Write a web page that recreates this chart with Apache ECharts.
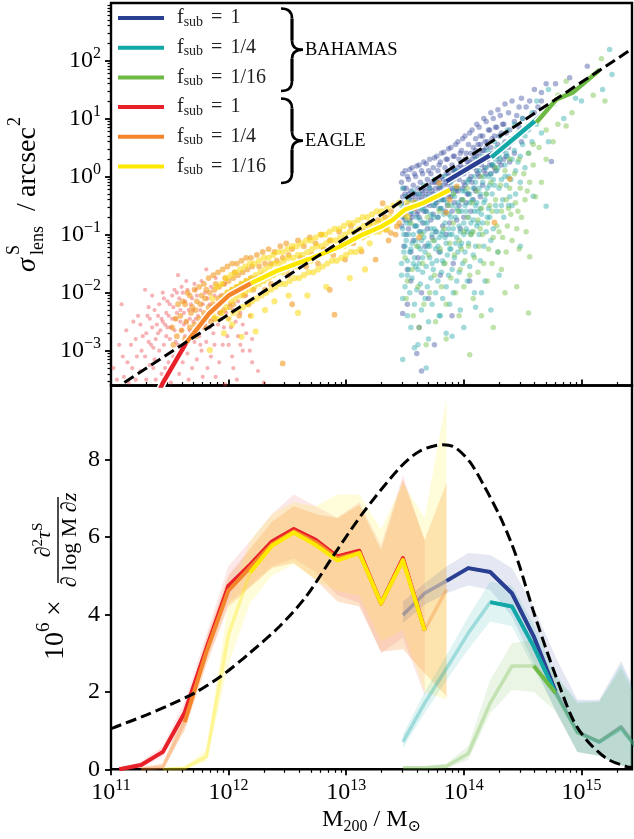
<!DOCTYPE html>
<html>
<head>
<meta charset="utf-8">
<script src="https://cdn.jsdelivr.net/npm/echarts@6.0.0/dist/echarts.min.js"></script>
<style>html,body{margin:0;padding:0;background:#fff;}#chart{width:634px;height:839px;}</style>
</head>
<body>
<div id="chart"></div>
<script>
const _ = null;
// ---------------- tick labels ----------------
const xTickExponents = [11, 12, 13, 14, 15];
const sigmaTickExponents = [-3, -2, -1, 0, 1, 2];
const tauTicks = [0, 2, 4, 6, 8];
const legendLabels = ['1', '1/4', '1/16', '1', '1/4', '1/16'];
const groupLabels = ['BAHAMAS', 'EAGLE'];

// ---------------- top panel: halo clouds, columns of [log10 M200, [log10 sigma ...]] ----------------
const bahamasF1Cloud = [[13.47,[-0.1,-0.85,-0.45]],[13.48,[-0.35,0.05,-0.7]],[13.49,[-0.6,-1.2,-0.2]],[13.50,[0.1,-0.75,-0.3]],[13.51,[-0.2,-1.0,-0.55]],[13.52,[-0.5,-1.6,0.0]],[13.53,[-0.05,-0.9,-0.3]],[13.54,[-0.4,0.12,-0.75]],[13.55,[-0.65,-0.25,-1.3]],[13.56,[0.15,-0.7,-0.35]],[13.57,[-0.15,-1.1,-0.5]],[13.58,[-0.45,-0.3,-0.55,0.05]],[13.59,[0.0,-0.85,-0.4]],[13.60,[-0.3,0.18,-0.65]],[13.61,[-0.6,-1.4,-0.2]],[13.62,[0.2,-0.7,-0.35]],[13.63,[-0.1,-0.95,-0.5]],[13.64,[-0.4,-0.25,-2.0,0.1]],[13.65,[0.05,-0.8,-0.3]],[13.66,[-0.2,0.25,-0.6]],[13.67,[-0.5,-1.2,-0.35]],[13.68,[0.22,-0.6,-0.25]],[13.69,[-0.05,-0.9,-0.45]],[13.70,[-0.3,-0.15,-0.45,0.1]],[13.71,[0.3,-0.5,-0.2]],[13.72,[0.05,-0.75,-0.4]],[13.73,[-0.25,-1.05,-0.1]],[13.74,[0.15,-0.65,-0.3]],[13.75,[-0.1,0.32,-0.5]],[13.76,[-0.4,-0.95,-0.2]],[13.77,[0.35,-0.45,-0.1]],[13.78,[0.1,-0.7,-0.3]],[13.79,[-0.2,-0.05,-1.3,0.2]],[13.80,[0.25,-0.55,-0.2]],[13.81,[0.0,0.4,-0.4]],[13.82,[-0.3,-0.85,-0.15]],[13.83,[0.42,-0.4,-0.05]],[13.84,[0.15,-0.6,-0.25]],[13.85,[-0.1,0.05,-1.0,0.3]],[13.86,[0.3,-0.5,-0.15]],[13.87,[0.05,0.48,-0.35]],[13.88,[-0.25,-0.8,-0.1]],[13.89,[0.5,-0.35,0.0]],[13.90,[0.2,-0.6,-0.2]],[13.91,[-0.05,0.1,-1.5,0.35]],[13.92,[0.35,-0.45,0.1]],[13.93,[0.1,0.55,-0.25]],[13.94,[-0.2,-0.75,0.0]],[13.95,[0.6,-0.25,0.15]],[13.96,[0.3,-0.5,-0.05]],[13.97,[0.05,0.2,-0.9,0.4]],[13.98,[0.45,-0.4,0.1]],[13.99,[0.15,0.65,-0.2]],[14.00,[-0.1,-0.7,0.05]],[14.01,[0.7,-0.15,0.3]],[14.02,[0.4,-0.45,0.15]],[14.03,[0.1,0.25,-0.3]],[14.04,[0.55,-0.3,0.2]],[14.05,[0.25,0.75,-0.05]],[14.06,[0.0,-0.6,0.4]],[14.07,[0.8,-0.1,0.3]],[14.08,[0.5,-0.4,0.15]],[14.09,[0.2,0.35,-0.2]],[14.10,[0.65,-0.25,0.45]],[14.11,[0.35,0.9,0.1]],[14.12,[0.05,0.55]],[14.13,[0.85,0.0,0.4]],[14.14,[0.55,-0.35,0.7]],[14.15,[0.3,0.2]],[14.16,[0.7,-0.15,0.45]],[14.17,[0.45,1.0,0.1]],[14.18,[0.15,0.6]],[14.19,[0.95,0.05,0.5]],[14.20,[0.6,0.3]],[14.21,[0.35,0.8]],[14.22,[0.8,0.2]],[14.23,[0.5,1.1,0.05]],[14.24,[0.2,0.65]],[14.25,[1.0,0.4]],[14.26,[0.7,0.15]],[14.27,[0.4,0.85,0.1]],[14.28,[0.85,0.35]],[14.29,[0.55,1.15]],[14.30,[0.25,0.7]],[14.31,[1.05,0.45]],[14.32,[0.75,0.2]],[14.33,[0.45,0.9]],[14.34,[0.9,0.3]],[14.35,[0.6,1.25]],[14.36,[0.35,0.75]],[14.38,[1.1,0.5]],[14.39,[0.8,0.25]],[14.41,[1.3,0.6]],[14.43,[0.95,0.4]],[14.45,[1.05,0.7]],[14.47,[0.85,1.2]],[14.49,[1.35,0.6]],[14.5,[1.0]],[14.53,[1.2,0.85]],[14.56,[0.9,1.3]],[14.6,[1.5,1.1]],[14.63,[1.2]],[14.66,[1.45,1.3]],[14.7,[1.6]],[14.745,[0.26]],[14.78,[1.6]],[14.9,[1.7]],[15.05,[1.9]]];
const bahamasF1Sparse = [[13.48,-2.36],[13.64,-3.35],[13.55,-1.8],[13.7,-2.1],[13.62,-2.6],[13.6,-3.05],[13.9,-2.4],[13.75,-2.9],[14.05,-1.8],[13.52,-2.2],[13.8,-1.7]];
const bahamasF4Cloud = [[13.47,[-0.5,-1.7,-1.5]],[13.48,[-0.9,-2.1,-0.2]],[13.49,[-1.3,-0.6,-1.0]],[13.50,[-0.7,-1.9,-1.2]],[13.51,[-1.1,-0.35,-0.8]],[13.52,[-1.45,-2.4,-1.7]],[13.53,[-0.4,-1.6,-1.0]],[13.54,[-0.8,-2.0,-1.3]],[13.55,[-1.25,-2.6,-0.6]],[13.56,[-0.6,-1.75,-1.15]],[13.57,[-1.0,-0.25,-1.5]],[13.58,[-1.4,-2.2,-0.85]],[13.59,[-0.45,-1.55,-1.1]],[13.60,[-0.85,-1.95,-0.7]],[13.61,[-1.2,-2.9,-1.6]],[13.62,[-0.3,-1.5,-0.95]],[13.63,[-0.75,-1.85,-1.25]],[13.64,[-1.1,-2.3,-0.55]],[13.65,[-0.55,-1.65,-1.4]],[13.66,[-0.95,-0.15,-1.05]],[13.67,[-1.3,-2.1,-0.8]],[13.68,[-0.4,-1.55,-0.6]],[13.69,[-0.8,-1.9,-1.2]],[13.70,[-1.15,-2.5,-0.35]],[13.71,[-0.2,-1.4,-1.2]],[13.72,[-0.65,-1.75,-0.9]],[13.73,[-1.0,-2.2,-1.5]],[13.74,[-0.5,-1.6,-0.7]],[13.75,[-0.9,-0.05,-1.1]],[13.76,[-1.25,-2.0,-0.45]],[13.77,[-0.3,-1.45,-0.95]],[13.78,[-0.7,-1.8,-1.2]],[13.79,[-1.05,-2.4,-0.55]],[13.80,[-0.15,-1.3,-0.4]],[13.81,[-0.55,-1.65,-1.0]],[13.82,[-0.95,-2.1,-1.45]],[13.83,[-0.4,-1.5,-0.65]],[13.84,[-0.8,0.0,-1.05]],[13.85,[-1.15,-1.9,-2.7]],[13.86,[-0.25,-1.35,-0.45]],[13.87,[-0.65,-1.7,-0.9]],[13.88,[-1.0,-2.2,-1.25]],[13.89,[-0.1,-1.25,-0.7]],[13.90,[-0.5,-1.6,-1.0]],[13.91,[-0.9,-2.0,-0.3]],[13.92,[-0.35,-1.4,-0.2]],[13.93,[-0.7,0.1,-1.15]],[13.94,[-1.05,-1.8,-0.55]],[13.95,[-0.2,-1.3,-0.45]],[13.96,[-0.6,-1.65,-0.85]],[13.97,[-0.95,-2.3,-1.2]],[13.98,[0.05,-1.15,-0.6]],[13.99,[-0.4,-1.5,-0.25]],[14.00,[-0.8,-1.0]],[14.01,[-0.25,-1.3,-0.5]],[14.02,[-0.6,0.15,-0.9]],[14.03,[-0.95,-1.8,-0.1]],[14.04,[-0.05,-1.15,-0.7]],[14.05,[-0.45,-1.55,-0.3]],[14.06,[-0.8,-1.0]],[14.07,[0.2,-0.95,-0.4]],[14.08,[-0.2,-1.35,-0.75]],[14.09,[-0.6,-2.0,0.0]],[14.10,[-0.1,-1.2,-0.5]],[14.11,[-0.45,0.3,-0.85]],[14.12,[-0.8,-0.6]],[14.13,[0.1,-1.0,-0.2]],[14.14,[-0.3,-1.45,-0.55]],[14.15,[-0.65,0.25]],[14.16,[0.35,-0.8,-0.1]],[14.17,[0.0,-1.2,-0.45]],[14.18,[-0.4,-1.8]],[14.19,[0.15,-0.95,-0.3]],[14.20,[-0.2,0.45,-0.7]],[14.21,[-0.55,0.0]],[14.22,[0.4,-0.7,-0.15]],[14.23,[0.05,-1.1]],[14.24,[-0.3,0.2]],[14.25,[0.2,-0.9,-0.05]],[14.26,[-0.15,0.6]],[14.27,[-0.5,0.3]],[14.28,[0.5,-0.6,0.1]],[14.29,[0.15,-1.3]],[14.30,[-0.2,0.35]],[14.31,[0.3,0.7]],[14.32,[-0.05,-0.5]],[14.33,[-0.4,0.5]],[14.34,[0.55,-0.7]],[14.35,[0.2,0.0]],[14.36,[-0.15,0.4]],[14.37,[0.35,0.8]],[14.38,[0.0,-0.5]],[14.39,[-0.35,0.6]],[14.40,[0.65,-0.05]],[14.41,[0.3,-0.5]],[14.43,[0.45,0.9]],[14.44,[0.1,-0.3]],[14.46,[0.75,0.25]],[14.48,[0.35,-0.1]],[14.5,[0.55,1.0]],[14.52,[0.15,0.7]],[14.55,[0.8,0.4]],[14.58,[1.1,0.6]],[14.59,[-0.34]],[14.62,[0.9,1.3]],[14.66,[1.15,0.75]],[14.7,[-0.51]],[14.72,[1.5,0.6]],[14.77,[1.25]],[14.85,[1.0]],[14.95,[1.35]],[15.0,[1.3]],[15.18,[1.5]],[15.24,[2.19]],[15.26,[1.76]]];
const bahamasF4Sparse = [[13.48,-3.15],[13.68,-3.3],[13.58,-2.95],[13.8,-2.4],[14.0,-2.6],[14.23,-2.3],[14.15,-2.0],[14.48,-1.2],[13.7,-2.8],[13.9,-2.75],[14.1,-2.25],[14.3,-1.7]];
const bahamasF16Cloud = [[13.5,[-1.4]],[13.51,[-2.1]],[13.52,[-1.8]],[13.55,[-0.8]],[13.56,[-1.6]],[13.57,[-2.4]],[13.6,[-1.2]],[13.61,[-1.9]],[13.62,[-2.6]],[13.64,[-1.0]],[13.65,[-1.5]],[13.66,[-2.2]],[13.69,[-0.7]],[13.7,[-1.35]],[13.71,[-2.0]],[13.74,[-1.1]],[13.75,[-1.7]],[13.76,[-2.5]],[13.79,[-0.6]],[13.8,[-1.25]],[13.81,[-1.9]],[13.83,[-0.9]],[13.84,[-1.5]],[13.85,[-2.2]],[13.87,[-0.5]],[13.88,[-1.15]],[13.89,[-1.75]],[13.91,[-0.8,-0.3]],[13.92,[-1.35]],[13.93,[-2.0]],[13.95,[-0.6]],[13.96,[-1.1,-2.4]],[13.97,[-1.6]],[13.98,[-1.25]],[13.99,[-0.4]],[14.0,[-0.95,-1.9]],[14.01,[-1.45]],[14.03,[-0.7,-0.2]],[14.04,[-1.2]],[14.05,[-1.7]],[14.06,[-1.0]],[14.07,[-0.45]],[14.08,[-0.95,-2.1]],[14.09,[-1.4]],[14.11,[-0.25]],[14.12,[-0.75,-1.65]],[14.13,[-1.2]],[14.14,[-0.9]],[14.15,[-0.55,0.0]],[14.16,[-1.0]],[14.17,[-1.5]],[14.19,[-0.3]],[14.2,[-0.8,-1.8]],[14.21,[-1.25]],[14.22,[-0.5]],[14.23,[-0.1]],[14.24,[-0.6,-1.5]],[14.25,[-1.05]],[14.27,[-0.4,0.15]],[14.28,[-0.85]],[14.29,[-1.3]],[14.3,[-0.95]],[14.31,[-0.15]],[14.32,[-0.6,-1.6]],[14.33,[-1.05]],[14.35,[0.1]],[14.36,[-0.4,-1.3]],[14.37,[-0.85]],[14.38,[-0.55]],[14.39,[-0.2,0.3]],[14.4,[-0.65]],[14.41,[-1.1]],[14.43,[0.05]],[14.44,[-0.45]],[14.45,[-0.9]],[14.46,[-0.6]],[14.47,[0.3,-1.25]],[14.48,[-0.2]],[14.49,[-0.7]],[14.51,[0.05]],[14.52,[-0.4]],[14.53,[-0.95]],[14.54,[-0.25]],[14.55,[0.4]],[14.56,[-0.1,-1.38]],[14.59,[0.2,0.55]],[14.61,[-0.35]],[14.64,[0.5,0.95]],[14.66,[-0.1]],[14.7,[0.3,0.8]],[14.74,[1.2]],[14.76,[0.6]],[14.8,[0.9,1.4]],[14.87,[0.87,1.64]],[14.92,[1.1]],[15.0,[1.6]],[15.1,[1.4]],[15.17,[2.03]],[15.2,[1.3]]];
const bahamasF16Sparse = [[14.05,-3.07],[13.85,-2.8],[14.15,-2.4],[14.35,-2.0],[13.68,-2.9],[14.45,-1.9],[14.55,-2.35],[14.25,-2.6]];
const eagleF1Cloud = [[11.02,[-3.3]],[11.05,[-3.5]],[11.07,[-2.9]],[11.09,[-2.2]],[11.1,[-3.1]],[11.11,[-3.45]],[11.13,[-2.65]],[11.14,[-3.2]],[11.15,[-3.55]],[11.17,[-2.9]],[11.18,[-3.3]],[11.19,[-2.5]],[11.21,[-2.8,-3.5]],[11.22,[-3.1]],[11.23,[-2.4]],[11.25,[-2.55,-3.35]],[11.26,[-3.0]],[11.27,[-2.75]],[11.29,[-1.95,-3.1]],[11.3,[-2.7,-3.5]],[11.31,[-2.4]],[11.32,[-2.25,-2.85]],[11.33,[-2.45,-3.25]],[11.34,[-2.9]],[11.35,[-2.6,-2.05]],[11.36,[-2.95,-3.3]],[11.37,[-2.3,-3.15]],[11.38,[-2.8,-3.5]],[11.39,[-2.55]],[11.4,[-2.4,-2.7]],[11.41,[-2.2,-3.0]],[11.42,[-2.65]],[11.43,[-3.4,-2.45]],[11.44,[-2.0,-2.5]],[11.45,[-2.1,-2.9]],[11.46,[-2.55,-3.3]],[11.47,[-2.35,-2.75]],[11.48,[-2.15,-2.6]],[11.49,[-2.4,-3.2]],[11.5,[-2.8,-2.2]],[11.51,[-3.55,-2.6]],[11.52,[-2.05,-2.45]],[11.53,[-2.25,-3.1]],[11.54,[-2.65,-1.95]],[11.55,[-2.45,-2.85]],[11.56,[-2.35,-2.0]],[11.57,[-1.7,-2.9]],[11.58,[-2.1,-3.4]],[11.59,[-2.5,-2.3]],[11.6,[-1.9,-2.65]],[11.61,[-2.0,-3.2]],[11.62,[-2.35,-2.55]],[11.63,[-2.75,-2.15]],[11.64,[-2.5,-1.8]],[11.65,[-1.95,-3.05]],[11.66,[-2.3,-3.5]],[11.67,[-2.65,-2.45]],[11.68,[-2.2,-2.7]],[11.69,[-2.1,-3.3]],[11.7,[-2.5,-2.3]],[11.71,[-2.85,-1.85]],[11.72,[-2.45,-1.95]],[11.73,[-2.05,-3.15]],[11.74,[-2.4]],[11.75,[-2.75,-2.6]],[11.76,[-2.3,-2.9]],[11.77,[-1.8,-3.0]],[11.78,[-2.2,-3.45]],[11.79,[-2.6]],[11.8,[-2.0,-2.55]],[11.81,[-1.6,-2.85]],[11.82,[-2.1,-3.3]],[11.83,[-2.45]],[11.84,[-2.6,-2.2]],[11.85,[-1.9,-3.1]],[11.86,[-2.3]],[11.87,[-2.7]],[11.88,[-2.05,-2.9]],[11.89,[-1.75,-3.45]],[11.9,[-2.2]],[11.91,[-2.55]],[11.92,[-2.35,-3.2]],[11.93,[-2.05]],[11.94,[-2.45]],[11.95,[-2.9]],[11.96,[-2.15,-2.6]],[11.97,[-1.85,-3.58]],[11.98,[-2.35]],[11.99,[-2.75]],[12.0,[-2.45,-2.9]],[12.01,[-2.2]],[12.02,[-2.6]],[12.03,[-3.1]],[12.04,[-2.3,-3.3]],[12.05,[-2.0]],[12.06,[-2.5]],[12.07,[-3.5]],[12.08,[-2.15,-2.75]],[12.1,[-2.35,-2.9]],[12.12,[-2.55,-3.0]],[12.15,[-2.05,-2.7]],[12.18,[-2.4,-3.0]],[12.2,[-2.8,-3.2]],[12.25,[-3.35]],[12.3,[-3.55]]];
const eagleF4Cloud = [[11.52,[-2.6]],[11.53,[-2.9]],[11.55,[-2.45]],[11.56,[-2.75]],[11.57,[-2.2]],[11.59,[-2.4]],[11.6,[-2.65]],[11.61,[-2.15]],[11.63,[-2.2,-2.8]],[11.64,[-2.5]],[11.65,[-2.0]],[11.67,[-2.05,-2.6]],[11.68,[-2.35]],[11.69,[-2.25]],[11.71,[-1.95,-2.55]],[11.72,[-2.3,-2.75]],[11.73,[-2.15]],[11.75,[-1.9,-2.45]],[11.76,[-2.2]],[11.77,[-2.05]],[11.79,[-1.85,-2.35]],[11.8,[-2.1,-2.6]],[11.81,[-1.95]],[11.83,[-1.75,-2.25]],[11.84,[-2.0]],[11.85,[-2.5]],[11.87,[-1.7,-2.2]],[11.88,[-1.95,-2.45]],[11.89,[-1.85]],[11.91,[-1.65,-2.1]],[11.92,[-1.9]],[11.93,[-2.35]],[11.95,[-1.6,-2.05]],[11.96,[-1.85,-2.3]],[11.97,[-1.75]],[11.99,[-1.55,-2.0]],[12.0,[-1.8]],[12.01,[-2.25]],[12.03,[-1.5,-1.95]],[12.04,[-1.75,-2.2]],[12.05,[-1.65]],[12.07,[-1.5,-1.9]],[12.08,[-1.7]],[12.09,[-2.4]],[12.11,[-1.45,-1.85]],[12.12,[-1.65]],[12.13,[-2.05]],[12.15,[-1.4,-1.8]],[12.16,[-1.6]],[12.17,[-2.2]],[12.19,[-1.4,-1.75]],[12.2,[-1.55]],[12.21,[-1.95]],[12.24,[-1.35,-1.75]],[12.26,[-1.55]],[12.29,[-1.3,-1.7]],[12.31,[-1.5,-1.95]],[12.34,[-1.25]],[12.36,[-1.5,-1.85]],[12.39,[-1.3,-1.65]],[12.41,[-1.45]],[12.44,[-1.2,-1.6]],[12.46,[-1.4,-3.22]],[12.49,[-1.15]],[12.51,[-1.35,-1.7]],[12.54,[-1.25,-2.2]],[12.56,[-1.5]],[12.59,[-1.1]],[12.61,[-1.4]],[12.64,[-1.2]],[12.66,[-1.55]],[12.69,[-1.05]],[12.71,[-1.35]],[12.74,[-1.15]],[12.76,[-1.5]],[12.79,[-1.0]],[12.81,[-1.25]],[12.86,[-1.1,-1.95]],[12.89,[-1.35]],[12.9,[-2.38]],[12.94,[-0.95]],[12.96,[-1.2]],[12.99,[-1.43]],[13.04,[-0.85]],[13.06,[-1.15]],[13.13,[-1.29]],[13.15,[-0.95]],[13.2,[-0.8]],[13.25,[-1.43]],[13.27,[-0.75]],[13.31,[-0.46]],[13.33,[-0.7]],[13.34,[-0.92]],[13.36,[-1.1]],[13.38,[-0.97,-0.6]],[13.42,[-1.0]],[13.43,[-0.86]],[13.45,[-0.8]],[13.5,[-0.65]],[13.58,[-0.55]],[13.62,[-1.05]],[13.7,[-0.4]],[13.79,[-0.11]],[13.85,[-0.62]],[13.88,[-0.40]],[13.94,[-0.17]],[14.26,[-0.79]],[14.39,[-0.04]]];
const eagleF16Cloud = [[11.84,[-2.99]],[11.86,[-2.1]],[11.87,[-2.4]],[11.9,[-1.9,-2.45]],[11.91,[-2.2]],[11.94,[-1.85,-2.35]],[11.95,[-2.1]],[11.96,[-2.7]],[11.98,[-1.75,-2.25]],[11.99,[-2.0]],[12.0,[-2.45]],[12.02,[-1.7,-2.15]],[12.03,[-1.95,-2.55]],[12.04,[-2.35]],[12.06,[-1.65,-2.1]],[12.07,[-1.9]],[12.08,[-2.3]],[12.1,[-1.6,-2.05]],[12.11,[-1.85,-2.76]],[12.12,[-2.25]],[12.14,[-1.55,-2.0]],[12.15,[-1.8]],[12.16,[-2.2]],[12.18,[-1.5,-1.95]],[12.19,[-1.75,-2.4]],[12.2,[-2.15]],[12.22,[-1.5,-1.9]],[12.23,[-1.7,-2.67]],[12.24,[-2.1]],[12.26,[-1.45,-1.85]],[12.27,[-1.65]],[12.28,[-2.05]],[12.3,[-1.4,-1.8]],[12.31,[-1.6,-2.3]],[12.32,[-2.0]],[12.34,[-1.4,-1.75]],[12.35,[-1.55]],[12.36,[-1.95]],[12.38,[-1.35,-1.7]],[12.39,[-1.5,-2.15]],[12.4,[-1.9]],[12.42,[-1.3,-1.65]],[12.43,[-1.5]],[12.44,[-1.85]],[12.46,[-1.3,-1.65]],[12.47,[-1.45]],[12.48,[-1.85]],[12.5,[-1.25,-1.6]],[12.51,[-1.4,-2.05]],[12.52,[-1.8]],[12.54,[-1.2,-1.55]],[12.55,[-1.4]],[12.56,[-1.75]],[12.58,[-1.2,-1.55]],[12.59,[-1.35,-2.35]],[12.6,[-1.75]],[12.62,[-1.15,-1.5]],[12.63,[-1.35]],[12.64,[-1.7]],[12.66,[-1.1,-1.45]],[12.67,[-1.3,-2.05]],[12.68,[-1.65]],[12.7,[-1.1,-1.45]],[12.71,[-1.25]],[12.72,[-1.65]],[12.74,[-1.05,-1.4]],[12.75,[-1.2]],[12.76,[-1.6]],[12.78,[-1.0,-1.35]],[12.79,[-1.2]],[12.8,[-1.55]],[12.82,[-1.0,-1.3]],[12.83,[-1.15,-1.9]],[12.84,[-1.5]],[12.86,[-0.95,-1.3]],[12.87,[-1.1]],[12.88,[-1.45]],[12.9,[-0.9,-1.25]],[12.91,[-1.1]],[12.92,[-1.45]],[12.94,[-0.9,-1.2]],[12.95,[-1.05]],[12.96,[-1.4]],[12.98,[-0.85,-1.2]],[12.99,[-1.0]],[13.0,[-1.35]],[13.02,[-0.8,-1.15]],[13.03,[-0.95,-1.75]],[13.04,[-1.3]],[13.06,[-0.8,-1.1]],[13.07,[-0.95]],[13.08,[-1.3]],[13.1,[-0.75,-1.05]],[13.11,[-0.9]],[13.12,[-1.25]],[13.14,[-0.7,-1.05]],[13.15,[-0.85]],[13.16,[-1.6]],[13.18,[-0.7,-1.0]],[13.19,[-0.85]],[13.2,[-1.15]],[13.22,[-0.65]],[13.23,[-0.8]],[13.24,[-0.95]],[13.26,[-0.6]],[13.27,[-0.8]],[13.28,[-0.95]],[13.3,[-0.6]],[13.31,[-0.75]],[13.32,[-0.9]],[13.35,[-0.55,-0.9]],[13.37,[-0.7]],[13.4,[-0.5]],[13.42,[-0.7]],[13.45,[-0.45]],[13.47,[-0.65]],[13.52,[-0.45,-0.7]],[13.58,[-0.45]]];

// ---------------- top panel: median relations [log10 M200, log10 sigma] ----------------
const topEagleF1 = [[11.25,-4.4],[11.44,-3.56],[11.638,-2.87]];
const topEagleF4 = [[11.638,-2.87],[11.837,-2.355],[12.007,-2.04],[12.191,-1.84]];
const topEagleF16 = [[12.191,-1.84],[12.404,-1.63],[12.688,-1.42],[12.943,-1.21],[13.141,-1.0],[13.30,-0.86],[13.40,-0.74],[13.50,-0.57],[13.65,-0.46],[13.88,-0.23]];
const topBahamasF1 = [[13.851,-0.083],[14.234,0.38]];
const topBahamasF4 = [[14.234,0.33],[14.617,0.98],[14.758,1.27]];
const topBahamasF16 = [[14.617,0.93],[14.787,1.33],[14.929,1.45],[15.156,1.84]];
const modelSigma = [[11.0,-3.70],[13.28,-0.68],[15.43,2.20]];

// ---------------- bottom panel: optical depth per mass bin ----------------
const massBins = [11.07,11.256,11.441,11.627,11.812,11.998,12.183,12.369,12.554,12.74,12.925,13.111,13.296,13.482,13.667,13.853,14.038,14.224,14.409,14.595,14.78,14.966,15.151,15.337,15.522];
const eagleF1Tau = [0.0,0.11,0.45,1.47,3.13,4.74,5.29,5.89,6.21,5.93,5.50,5.65,4.29,5.46,3.60,_,_,_,_,_,_,_,_,_,_];
const eagleF1Lo  = [0,0.04,0.33,1.25,2.8,4.3,4.75,5.25,5.45,5.1,4.5,4.3,3.0,3.4,1.9,_,_,_,_,_,_,_,_,_,_];
const eagleF1Hi  = [0.03,0.2,0.6,1.75,3.5,5.25,5.9,6.6,7.1,6.8,6.5,6.9,5.8,7.6,5.9,_,_,_,_,_,_,_,_,_,_];
const eagleF4Tau = [_,0.0,0.05,1.22,3.04,4.62,5.22,5.82,6.15,5.87,5.45,5.6,4.29,5.42,3.6,4.65,_,_,_,_,_,_,_,_,_];
const eagleF4Lo  = [_,0,0,1.0,2.7,4.2,4.7,5.2,5.33,4.9,4.34,4.21,3.04,3.1,2.48,1.88,_,_,_,_,_,_,_,_,_];
const eagleF4Hi  = [_,0.05,0.15,1.5,3.4,5.0,5.7,6.4,6.8,6.6,6.49,6.84,5.67,7.49,5.93,7.4,_,_,_,_,_,_,_,_,_];
const eagleF16Tau = [_,_,0.0,0.03,0.33,3.47,5.09,5.78,6.12,5.80,5.40,5.59,4.29,5.40,3.59,_,_,_,_,_,_,_,_,_,_];
const eagleF16Lo  = [_,_,0,0,0.2,2.7,4.3,5.0,5.3,4.9,4.6,4.5,3.3,3.6,2.0,1.8,_,_,_,_,_,_,_,_,_];
const eagleF16Hi  = [_,_,0.02,0.08,0.5,4.3,5.9,6.6,6.9,6.8,7.1,7.1,6.2,7.4,6.5,9.6,_,_,_,_,_,_,_,_,_];
const bahamasF1Tau = [_,_,_,_,_,_,_,_,_,_,_,_,_,3.99,4.55,4.87,5.20,5.10,4.55,3.43,2.01,0.97,0.71,1.10,0.35];
const bahamasF1Lo  = [_,_,_,_,_,_,_,_,_,_,_,_,_,3.78,4.25,4.55,4.75,4.64,3.95,2.74,1.5,0.45,0.35,0.1,0.0];
const bahamasF1Hi  = [_,_,_,_,_,_,_,_,_,_,_,_,_,4.34,4.81,5.24,5.59,5.54,5.2,4.2,2.9,1.8,1.8,2.8,1.6];
const bahamasF4Tau = [_,_,_,_,_,_,_,_,_,_,_,_,_,0.71,1.71,2.61,3.52,4.32,4.21,3.17,1.97,0.95,0.70,1.05,0.35];
const bahamasF4Lo  = [_,_,_,_,_,_,_,_,_,_,_,_,_,0.55,1.45,2.3,3.1,3.82,3.7,2.6,1.55,0.45,0.35,0.1,0];
const bahamasF4Hi  = [_,_,_,_,_,_,_,_,_,_,_,_,_,0.9,2.0,2.95,3.95,4.85,4.75,3.75,2.45,1.75,1.75,2.7,1.6];
const bahamasF16Tau = [_,_,_,_,_,_,_,_,_,_,_,_,_,0.04,0.04,0.08,0.41,1.71,2.67,2.67,1.97,0.95,0.72,1.08,0.35];
const bahamasF16Lo  = [_,_,_,_,_,_,_,_,_,_,_,_,_,0,0,0.02,0.25,1.45,2.05,2.0,1.5,0.45,0.35,0.1,0];
const bahamasF16Hi  = [_,_,_,_,_,_,_,_,_,_,_,_,_,0.08,0.08,0.15,0.6,2.31,3.26,3.35,2.4,1.7,1.75,2.6,1.5];
// bins where each relation is well sampled (drawn solid)
const wellSampled = {eF1:[0,14], eF4:[3,14], eF16:[6,14], bF1:[15,20], bF4:[17,20], bF16:[19,20]};
const modelTau = [[11.0,1.05],[11.043,1.10],[11.298,1.40],[11.496,1.66],[11.709,1.97],[11.95,2.44],[12.177,3.0],[12.432,3.69],[12.66,4.47],[12.886,5.5],[13.141,6.62],[13.454,7.79],[13.624,8.22],[13.822,8.39],[13.92,8.33],[14.05,7.95],[14.177,7.3],[14.305,6.55],[14.404,5.85],[14.475,5.24],[14.588,4.12],[14.702,3.09],[14.815,2.14],[14.929,1.28],[15.043,0.76],[15.213,0.28],[15.383,0.07],[15.43,0.05]];

// ---------------- styling ----------------
const FONT = "'Liberation Serif','DejaVu Serif',serif";
const C = {bF1:'#2a3f92', bF4:'#12a8a8', bF16:'#6fba45', eF1:'#e8202a', eF4:'#f5852b', eF16:'#fde800'};
const X_MIN = 11, X_MAX = 15.43, S_MIN = -3.6, S_MAX = 2.99, T_MIN = 0, T_MAX = 9.92;
const expand = cols => cols.flatMap(([m, vs]) => vs.map(v => [m, v]));
const toSigma = arr => arr.map(([m, s]) => [m, Math.pow(10, s)]);

function minorTicks(lo, hi) {
  const out = [];
  for (let n = Math.floor(lo) - 1; n <= Math.ceil(hi); n++)
    for (let k = 2; k <= 9; k++) { const v = n + Math.log10(k); if (v > lo && v < hi) out.push(v); }
  return out;
}
const expLabel = n => '{b|10}{s|' + (n < 0 ? '\u2212' + (-n) : n) + '}';
const richLog = {
  b: {fontFamily: FONT, fontSize: 24, lineHeight: 30, color: '#000'},
  s: {fontFamily: FONT, fontSize: 16, lineHeight: 16, verticalAlign: 'top', color: '#000'}
};
const tickLine = w => ({color: '#000', width: w});

const grids = [
  {left: 111, top: 3, width: 521, height: 382.5, show: true, borderColor: '#000', borderWidth: 2.4, backgroundColor: 'transparent'},
  {left: 111, top: 3, width: 521, height: 382.5, show: false},
  {left: 111, top: 385.5, width: 521, height: 383.8, show: true, borderColor: '#000', borderWidth: 2.4, backgroundColor: 'transparent'},
  {left: 111, top: 385.5, width: 521, height: 383.8, show: false}
];
const baseAxis = () => ({type: 'value', axisLine: {show: false, onZero: false}, splitLine: {show: false}, axisLabel: {show: false}});
const sigMajor = sigmaTickExponents.map(n => Math.pow(10, n));
const sigMinor = minorTicks(S_MIN, S_MAX).map(v => Math.pow(10, v));
const xAxes = [
  Object.assign(baseAxis(), {gridIndex: 0, position: 'bottom', min: X_MIN, max: X_MAX, axisTick: {inside: true, length: 6, lineStyle: tickLine(1.8), customValues: xTickExponents}}),
  Object.assign(baseAxis(), {gridIndex: 1, position: 'bottom', min: X_MIN, max: X_MAX, axisTick: {inside: true, length: 3.5, lineStyle: tickLine(1.2), customValues: minorTicks(X_MIN, X_MAX)}}),
  Object.assign(baseAxis(), {gridIndex: 2, position: 'bottom', min: X_MIN, max: X_MAX,
    axisTick: {length: 6, lineStyle: tickLine(1.8), customValues: xTickExponents},
    axisLabel: {show: true, customValues: xTickExponents, formatter: v => expLabel(Math.round(v)), rich: richLog, margin: 8},
    name: '{m|M}{u|200}{m| / M}{u|\u2299}', nameLocation: 'middle', nameGap: 35,
    nameTextStyle: {rich: {m: {fontFamily: FONT, fontSize: 24, lineHeight: 30, color: '#000'}, u: {fontFamily: FONT, fontSize: 16, lineHeight: 17, verticalAlign: 'bottom', color: '#000'}}}}),
  Object.assign(baseAxis(), {gridIndex: 3, position: 'bottom', min: X_MIN, max: X_MAX, axisTick: {length: 3.5, lineStyle: tickLine(1.2), customValues: minorTicks(X_MIN, X_MAX)}})
];
const yAxes = [
  Object.assign(baseAxis(), {type: 'log', logBase: 10, gridIndex: 0, position: 'left', min: Math.pow(10, S_MIN), max: Math.pow(10, S_MAX),
    axisTick: {length: 6, lineStyle: tickLine(1.8), customValues: sigMajor},
    axisLabel: {show: true, customValues: sigMajor, formatter: v => expLabel(Math.round(Math.log10(v))), rich: richLog, margin: 10}}),
  Object.assign(baseAxis(), {type: 'log', logBase: 10, gridIndex: 1, position: 'left', min: Math.pow(10, S_MIN), max: Math.pow(10, S_MAX),
    axisTick: {length: 3.5, lineStyle: tickLine(1.2), customValues: sigMinor}}),
  Object.assign(baseAxis(), {gridIndex: 2, position: 'left', min: T_MIN, max: T_MAX,
    axisTick: {length: 6, lineStyle: tickLine(1.8), customValues: tauTicks},
    axisLabel: {show: true, customValues: tauTicks, fontFamily: FONT, fontSize: 24, color: '#000', margin: 11}}),
  {type: 'value', gridIndex: 3, show: false, min: 0, max: 1}
];

const series = [];
// --- top: scatter clouds
[[expand(bahamasF1Cloud).concat(bahamasF1Sparse), '#34479c', 5.5, 0.42],
 [expand(bahamasF4Cloud).concat(bahamasF4Sparse), '#22a5a6', 5.5, 0.42],
 [expand(bahamasF16Cloud).concat(bahamasF16Sparse), '#7cc250', 5.5, 0.48],
 [expand(eagleF1Cloud), '#e8343c', 4.2, 0.38],
 [expand(eagleF4Cloud), '#f29a22', 5.8, 0.6],
 [expand(eagleF16Cloud), '#fad90c', 6.2, 0.55]]
.forEach(([d, col, sz, op]) => series.push({type: 'scatter', xAxisIndex: 0, yAxisIndex: 0, data: toSigma(d), symbol: 'circle', symbolSize: sz,
  itemStyle: {color: col, opacity: op}, silent: true, z: 2}));
// --- top: median relations with white edges
[['E1', topEagleF1, C.eF1], ['E4', topEagleF4, C.eF4], ['E16', topEagleF16, C.eF16],
 ['B1', topBahamasF1, C.bF1], ['B4', topBahamasF4, C.bF4], ['B16', topBahamasF16, C.bF16]]
.forEach(([nm, d, col]) => {
  series.push({type: 'line', xAxisIndex: 0, yAxisIndex: 0, data: toSigma(d), symbol: 'none', silent: true, z: 3,
    lineStyle: {color: '#fff', width: 7.5, join: 'round'}});
  series.push({name: nm, type: 'line', xAxisIndex: 0, yAxisIndex: 0, data: toSigma(d), symbol: 'none', silent: true, z: 3,
    itemStyle: {color: col}, lineStyle: {color: col, width: 4.5, join: 'round'}});
});
series.push({type: 'line', xAxisIndex: 0, yAxisIndex: 0, data: toSigma(modelSigma), symbol: 'none', silent: true, z: 4,
  lineStyle: {color: '#000', width: 3, type: [11, 5]}});

// --- bottom: bands
function band(lo, hi, col, op) {
  const pts = [];
  massBins.forEach((m, i) => { if (lo[i] != null && hi[i] != null) pts.push([m, lo[i], hi[i]]); });
  return {type: 'custom', xAxisIndex: 2, yAxisIndex: 2, data: pts, clip: true, silent: true, z: 2,
    encode: {x: 0, y: [1, 2]},
    renderItem(params, api) {
      if (params.dataIndex !== 0) return null;
      const up = pts.map(p => api.coord([p[0], p[2]]));
      const dn = pts.map(p => api.coord([p[0], p[1]])).reverse();
      return {type: 'polygon', shape: {points: up.concat(dn)}, style: {fill: col, opacity: op}};
    }};
}
series.push(band(eagleF1Lo, eagleF1Hi, C.eF1, 0.1));
series.push(band(eagleF4Lo, eagleF4Hi, C.eF4, 0.24));
series.push(band(eagleF16Lo, eagleF16Hi, C.eF16, 0.15));
series.push(band(bahamasF1Lo, bahamasF1Hi, C.bF1, 0.12));
series.push(band(bahamasF4Lo, bahamasF4Hi, C.bF4, 0.13));
series.push(band(bahamasF16Lo, bahamasF16Hi, C.bF16, 0.14));

function pts(vals, from, to) {
  const out = [];
  massBins.forEach((m, i) => { if (vals[i] != null && i >= from && i <= to) out.push([m, vals[i]]); });
  return out;
}
const tauSets = [['eF1', eagleF1Tau], ['eF4', eagleF4Tau], ['eF16', eagleF16Tau], ['bF1', bahamasF1Tau], ['bF4', bahamasF4Tau], ['bF16', bahamasF16Tau]];
tauSets.forEach(([k, vals]) => {
  series.push({type: 'line', xAxisIndex: 2, yAxisIndex: 2, data: pts(vals, 0, 99), symbol: 'none', silent: true, z: 3,
    lineStyle: {color: C[k], width: 3.5, opacity: 0.32, join: 'round'}});
});
tauSets.forEach(([k, vals]) => {
  series.push({type: 'line', xAxisIndex: 2, yAxisIndex: 2, data: pts(vals, wellSampled[k][0], wellSampled[k][1]), symbol: 'none', silent: true, z: 4,
    lineStyle: {color: C[k], width: 4, join: 'round'}});
});
series.push({type: 'line', xAxisIndex: 2, yAxisIndex: 2, data: modelTau, symbol: 'none', silent: true, z: 5, smooth: 0.3,
  lineStyle: {color: '#000', width: 3, type: [11, 5]}});

// --- graphic: braces, group names, y-axis titles
function brace(y0, y1) {
  const xb = 292, xl = 281, xt = 303, ym = (y0 + y1) / 2, st = {stroke: '#000', lineWidth: 2.6, fill: null};
  return [
    {type: 'bezierCurve', shape: {x1: xl, y1: y0, cpx1: xb, cpy1: y0, x2: xb, y2: y0 + 10}, style: st},
    {type: 'line', shape: {x1: xb, y1: y0 + 10, x2: xb, y2: ym - 9}, style: {stroke: '#000', lineWidth: 3.2}},
    {type: 'bezierCurve', shape: {x1: xb, y1: ym - 9, cpx1: xb, cpy1: ym, x2: xt, y2: ym}, style: st},
    {type: 'bezierCurve', shape: {x1: xt, y1: ym, cpx1: xb, cpy1: ym, x2: xb, y2: ym + 9}, style: st},
    {type: 'line', shape: {x1: xb, y1: ym + 9, x2: xb, y2: y1 - 10}, style: {stroke: '#000', lineWidth: 3.2}},
    {type: 'bezierCurve', shape: {x1: xb, y1: y1 - 10, cpx1: xb, cpy1: y1, x2: xl, y2: y1}, style: st}
  ];
}
const txt = (x, y, text, size, extra) => ({type: 'text', x, y, style: Object.assign({text, font: size + 'px ' + FONT, fill: '#000', align: 'left', verticalAlign: 'middle', textAlign: 'left', textVerticalAlign: 'middle'}, extra || {})});
const graphic = [].concat(brace(8.5, 91), brace(98.5, 183), [
  txt(305, 50, groupLabels[0], 18.5),
  txt(305, 141, groupLabels[1], 18.5),
  {type: 'group', x: 28, y: 272, rotation: Math.PI / 2, children: [
    txt(0, 0, '\u03c3', 28, {font: 'italic 28px ' + FONT}),
    txt(17, -14, 'S', 18),
    txt(17, 10, 'lens', 18),
    txt(61, 0, '/', 28),
    txt(75, 0, 'arcsec', 28),
    txt(146, -13, '2', 18)
  ]},
  {type: 'group', x: 58, y: 660, rotation: Math.PI / 2, children: [
    txt(0, -2.5, '10', 28),
    txt(28, -14, '6', 19),
    txt(44, -2.5, '\u00d7', 28),
    {type: 'line', shape: {x1: 77, y1: 0, x2: 163, y2: 0}, style: {stroke: '#000', lineWidth: 1.4}},
    {type: 'text', x: 120, y: -14, style: {text: '{d|\u2202}{s|2}{t|\u03c4}{s|S}', align: 'center', verticalAlign: 'middle', textAlign: 'center', textVerticalAlign: 'middle',
      rich: {d: {fontSize: 22, fontFamily: FONT, fontStyle: 'italic', lineHeight: 26}, t: {fontSize: 22, fontFamily: FONT, fontStyle: 'italic', lineHeight: 26},
             s: {fontSize: 15, fontFamily: FONT, lineHeight: 15, verticalAlign: 'top'}}}},
    {type: 'text', x: 120, y: 12, style: {text: '{d|\u2202}{r| log M }{d|\u2202}{d|z}', align: 'center', verticalAlign: 'middle', textAlign: 'center', textVerticalAlign: 'middle',
      rich: {d: {fontSize: 22, fontFamily: FONT, fontStyle: 'italic', lineHeight: 26}, r: {fontSize: 22, fontFamily: FONT, lineHeight: 26}}}}
  ]}
]);

const legendNames = ['B1', 'B4', 'B16', 'E1', 'E4', 'E16'];
const chart = echarts.init(document.getElementById('chart'), null, {renderer: 'canvas', width: 634, height: 839});
chart.setOption({
  animation: false,
  backgroundColor: '#fff',
  grid: grids,
  xAxis: xAxes,
  yAxis: yAxes,
  legend: {
    data: legendNames, orient: 'vertical', left: 118, top: 8, padding: 0,
    itemWidth: 46, itemHeight: 4, itemGap: 8.7, icon: 'rect', selectedMode: false,
    formatter: n => '{f0|f}{s|sub}{e|=}{f|' + legendLabels[legendNames.indexOf(n)] + '}',
    textStyle: {rich: {
      f0: {fontFamily: FONT, fontSize: 20, lineHeight: 22, color: '#222', padding: [0, 0, 0, 8]},
      s: {fontFamily: FONT, fontSize: 14, lineHeight: 14, verticalAlign: 'bottom', color: '#222'},
      e: {fontFamily: FONT, fontSize: 20, lineHeight: 22, color: '#222', padding: [0, 8, 0, 8]},
      f: {fontFamily: FONT, fontSize: 20, lineHeight: 22, color: '#222'}
    }}
  },
  graphic: graphic,
  series: series
});
</script>
</body>
</html>
